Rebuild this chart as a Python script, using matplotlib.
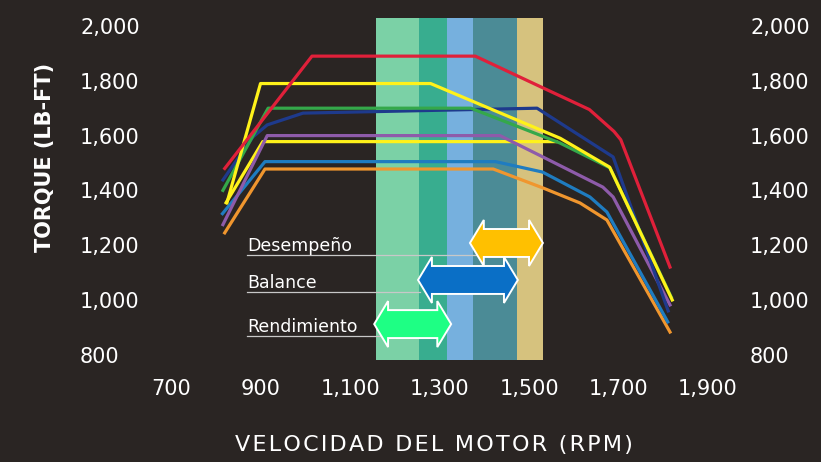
import matplotlib.pyplot as plt
import matplotlib.patches as mpatches
from matplotlib.transforms import ScaledTranslation

plt.rcParams['font.family'] = ['DejaVu Sans']

bg = '#2a2523'

# torque curves (rpm, lb-ft)
red_rpm = [820, 1015, 1380, 1530, 1635, 1690, 1705, 1815]
red_tq = [1480, 1890, 1890, 1775, 1695, 1615, 1585, 1120]
yel_rpm = [825, 900, 1280, 1570, 1680, 1820]
yel_tq = [1355, 1790, 1790, 1590, 1485, 1000]
grn_rpm = [816, 917, 1370, 1569, 1681, 1818]
grn_tq = [1400, 1700, 1700, 1573, 1482, 1010]
navy_rpm = [816, 883, 915, 995, 1518, 1688, 1811]
navy_tq = [1438, 1595, 1639, 1682, 1700, 1522, 960]
pur_rpm = [816, 915, 1435, 1531, 1665, 1688, 1815]
pur_tq = [1275, 1600, 1600, 1522, 1412, 1376, 982]
yel2_rpm = [823, 905, 1560]
yel2_tq = [1355, 1578, 1578]
blu_rpm = [815, 910, 1425, 1530, 1636, 1674, 1810]
blu_tq = [1315, 1505, 1505, 1467, 1376, 1321, 920]
org_rpm = [820, 910, 1420, 1531, 1614, 1674, 1815]
org_tq = [1245, 1478, 1478, 1409, 1354, 1292, 883]

curves = [
    (org_rpm, org_tq, '#f0962e'),
    (blu_rpm, blu_tq, '#1f7cc0'),
    (yel2_rpm, yel2_tq, '#fff21a'),
    (pur_rpm, pur_tq, '#8e5baa'),
    (navy_rpm, navy_tq, '#1e3a8c'),
    (grn_rpm, grn_tq, '#34a84a'),
    (yel_rpm, yel_tq, '#fff21a'),
    (red_rpm, red_tq, '#e0203a'),
]

# background bands
band_edges = [1158, 1254, 1317, 1375, 1473, 1531]
band_colors = ['#7bd1a6', '#38ad8f', '#76b0de', '#4b8b96', '#d6c27e']

# operating zones (double arrows)
zone_names = ['Desempeño', 'Balance', 'Rendimiento']
zone_start = [1368, 1252, 1154]
zone_end = [1531, 1475, 1326]
zone_tq = [1208, 1073, 912]
zone_colors = ['#ffc000', '#0a6fc6', '#1eff84']
line_end = [1390, 1256, 1167]

xticks = [700, 900, 1100, 1300, 1500, 1700, 1900]
yticks = [800, 1000, 1200, 1400, 1600, 1800, 2000]

fig = plt.figure(figsize=(8.21, 4.62), dpi=100, facecolor=bg)
ax = fig.add_axes([160/821, 102/462, 570/821, 342/462])
ax.set_facecolor(bg)
ax.set_xlim(675.4, 1949.1)
ax.set_ylim(780.9, 2029.2)

for i in range(len(band_colors)):
    ax.axvspan(band_edges[i], band_edges[i+1], color=band_colors[i], lw=0, zorder=1)

for r, t, c in curves:
    ax.plot(r, t, color=c, lw=2.3, zorder=3)

body = 51
head = 84
hl = 31
for name, x0, x1, yc, c, le in zip(zone_names, zone_start, zone_end, zone_tq, zone_colors, line_end):
    ax.plot([870, le], [yc - 44, yc - 44], color='#c8c8c8', lw=0.9, zorder=4)
    ax.text(870, yc - 29, name, color='white', fontsize=12.5, ha='left', va='baseline',
            zorder=5)
    pts = [(x0, yc), (x0 + hl, yc + head), (x0 + hl, yc + body), (x1 - hl, yc + body),
           (x1 - hl, yc + head), (x1, yc), (x1 - hl, yc - head), (x1 - hl, yc - body),
           (x0 + hl, yc - body), (x0 + hl, yc - head)]
    ax.add_patch(mpatches.Polygon(pts, closed=True, facecolor=c, edgecolor='white',
                                  lw=1.4, zorder=6, joinstyle='miter'))

for s in ax.spines.values():
    s.set_visible(False)
ax.set_xticks(xticks)
ax.set_xticklabels([f'{v:,}' for v in xticks])
ax.set_yticks(yticks)
ax.set_yticklabels([f'{v:,}' for v in yticks])
ax.tick_params(axis='x', length=0, pad=14, labelsize=15, colors='white')
ax.tick_params(axis='y', length=0, pad=57.6, labelsize=15, colors='white', labelright=True)

# left labels left-aligned at x=80px, right labels at x=750px
off = ScaledTranslation(20/100 - 57.6/72, 0, fig.dpi_scale_trans)
for t in ax.yaxis.get_major_ticks():
    t.label1.set_horizontalalignment('left')
    t.label2.set_transform(t.label2.get_transform() + off)

hs = '\u200a'
xlab = hs.join('VELOCIDAD DEL MOTOR (RPM)')
fig.text(434/821, 1 - 445/462, xlab, color='white',
         fontsize=16, ha='center', va='center')
fig.text(45/821, 1 - 157/462, 'TORQUE (LB-FT)', color='white', fontsize=15,
         fontweight='bold', rotation=90, ha='center', va='center')

fig.savefig('out.png', dpi=100, facecolor=bg)
